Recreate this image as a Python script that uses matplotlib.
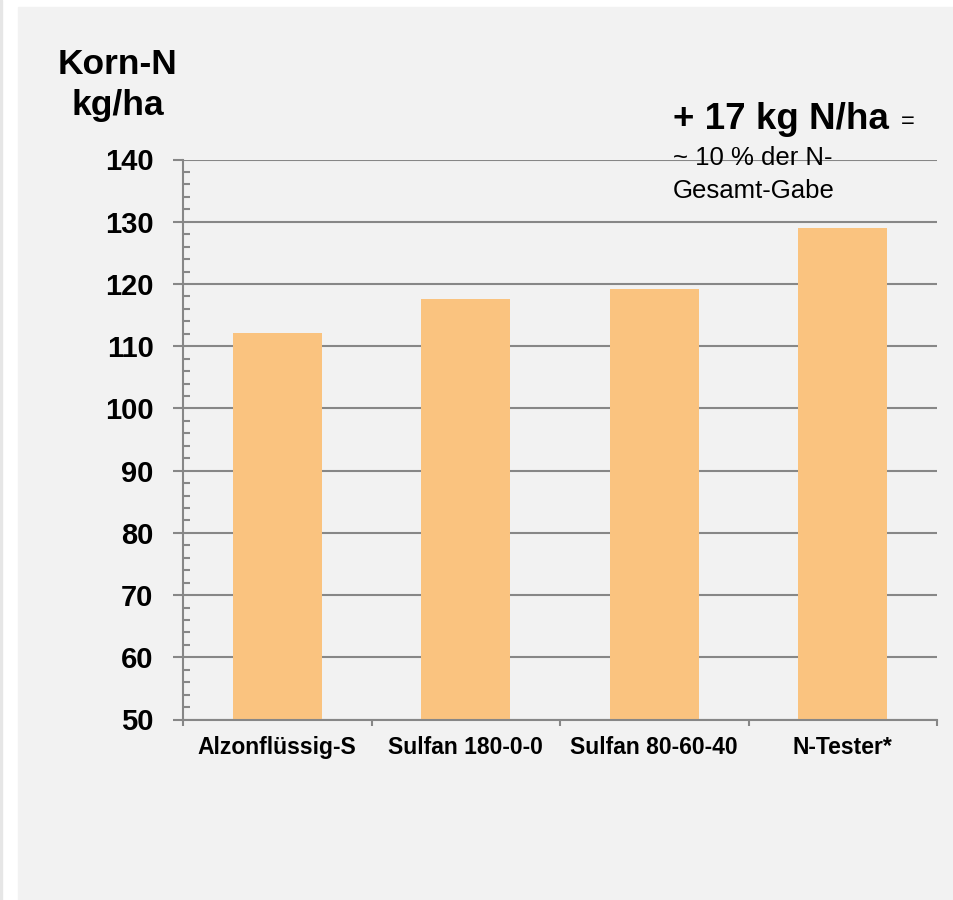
import numpy as np
import matplotlib
matplotlib.use("Agg")
import matplotlib.pyplot as plt
from matplotlib.patches import Rectangle
from matplotlib.ticker import MultipleLocator, FixedLocator

plt.rcParams['font.family'] = ['Liberation Sans', 'DejaVu Sans']

# Korn-N per variant (kg/ha)
categories = ["Alzonflüssig-S", "Sulfan 180-0-0", "Sulfan 80-60-40", "N-Tester*"]
korn_n = [112.1, 117.6, 119.2, 129.0]

W, H = 954, 900
fig = plt.figure(figsize=(W / 100, H / 100), dpi=100)
fig.patch.set_facecolor("white")

# panel backgrounds
fig.patches.append(Rectangle((0, 0), 2 / W, 1, transform=fig.transFigure,
                             color="#e6e6e6", zorder=-10))
fig.patches.append(Rectangle((18 / W, 0), 1 - 18 / W, 1 - 7 / H,
                             transform=fig.transFigure, color="#f2f2f2", zorder=-10))

ax = fig.add_axes([183 / W, 1 - 719.5 / H, (937 - 183) / W, (719.5 - 159.5) / H])
ax.set_facecolor("none")

x = np.arange(len(categories))
ax.bar(x, korn_n, width=0.47, color="#fac37f", zorder=2)

ax.set_xlim(-0.5, len(categories) - 0.5)
ax.set_ylim(50, 140)

grid_col = "#878787"
ax.yaxis.set_major_locator(MultipleLocator(10))
ax.yaxis.set_minor_locator(MultipleLocator(2))
ax.grid(axis="y", which="major", color=grid_col, linewidth=1.5, zorder=1)

# x ticks at category boundaries, labels at centres
ax.xaxis.set_major_locator(FixedLocator(np.arange(-0.5, len(categories), 1.0)))
ax.xaxis.set_minor_locator(FixedLocator(x))
ax.set_xticklabels([])
ax.set_xticklabels(categories, minor=True)
ax.tick_params(axis="x", which="major", direction="out", length=4.5, width=1.5,
               color=grid_col)
ax.tick_params(axis="x", which="minor", length=0, pad=12, labelsize=16.5)
for lab in ax.get_xticklabels(minor=True):
    lab.set_fontweight("bold")

ax.tick_params(axis="y", which="major", direction="out", length=7.2, width=1.5,
               color=grid_col, pad=14, labelsize=21)
ax.tick_params(axis="y", which="minor", direction="in", length=5, width=1.5,
               color=grid_col)
for lab in ax.get_yticklabels():
    lab.set_fontweight("bold")

for side in ["top", "right"]:
    ax.spines[side].set_visible(False)
for side in ["left", "bottom"]:
    ax.spines[side].set_color(grid_col)
    ax.spines[side].set_linewidth(1.5)

# axis title
fig.text(118 / W, 1 - 74 / H, "Korn-N", ha="center", va="baseline",
         fontsize=25.5, fontweight="bold")
fig.text(118 / W, 1 - 115 / H, "kg/ha", ha="center", va="baseline",
         fontsize=25.5, fontweight="bold")

# annotation
fig.text(673 / W, 1 - 129 / H, "+ 17 kg N/ha", ha="left", va="baseline",
         fontsize=26.5, fontweight="bold")
fig.text(901 / W, 1 - 128 / H, "=", ha="left", va="baseline", fontsize=17)
fig.text(673 / W, 1 - 165 / H, "~ 10 % der N-", ha="left", va="baseline",
         fontsize=18.5)
fig.text(673 / W, 1 - 198 / H, "Gesamt-Gabe", ha="left", va="baseline",
         fontsize=18.5)

fig.savefig("out.png", dpi=100)
